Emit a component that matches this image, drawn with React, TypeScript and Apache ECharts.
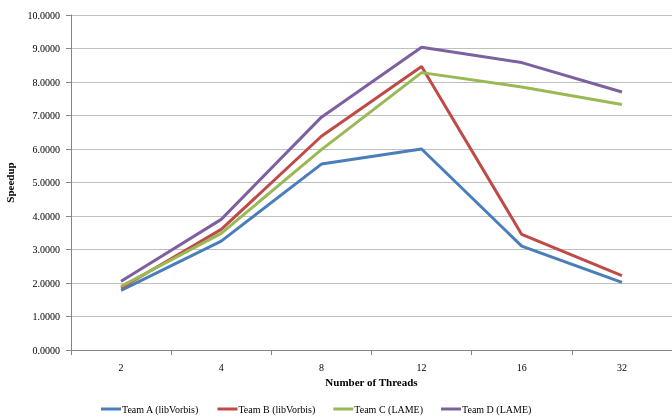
import React, { useEffect, useRef } from "react";
import * as echarts from "echarts";

const categories = ["2", "4", "8", "12", "16", "32"];
const teamA = [1.78, 3.25, 5.55, 6.0, 3.1, 2.02];
const teamB = [1.85, 3.6, 6.38, 8.46, 3.45, 2.22];
const teamC = [1.9, 3.48, 5.98, 8.28, 7.85, 7.33];
const teamD = [2.05, 3.9, 6.95, 9.04, 8.58, 7.7];
const seriesNames = ["Team A (libVorbis)", "Team B (libVorbis)", "Team C (LAME)", "Team D (LAME)"];
const seriesColors = ["#4A7EBB", "#BE4B48", "#98B954", "#7D60A0"];
const seriesData = [teamA, teamB, teamC, teamD];

export default function App() {
  const ref = useRef<HTMLDivElement>(null);
  useEffect(() => {
    const chart = echarts.init(ref.current!, null, { renderer: "svg" });
    const font = "'Liberation Serif', 'Times New Roman', serif";
    chart.setOption({
      animation: false,
      textStyle: { fontFamily: font },
      grid: { left: 71, right: 0, top: 15, bottom: 69, containLabel: false, outerBoundsMode: "none" },
      legend: {
        bottom: 0,
        left: 96,
        itemWidth: 20,
        itemHeight: 3,
        itemGap: 18,
        icon: "rect",
        textStyle: { fontFamily: font, fontSize: 10, color: "#000", padding: [0, 0, 0, -4] },
        data: seriesNames,
      },
      xAxis: {
        type: "category",
        data: categories,
        name: "Number of Threads",
        nameLocation: "middle",
        nameGap: 26,
        nameTextStyle: { fontFamily: font, fontWeight: "bold", fontSize: 11, color: "#000" },
        axisLine: { lineStyle: { color: "#868686" } },
        axisTick: { show: true, length: 5, lineStyle: { color: "#868686" } },
        axisLabel: { fontFamily: font, fontSize: 10, color: "#000", margin: 12 },
      },
      yAxis: {
        type: "value",
        min: 0,
        max: 10,
        interval: 1,
        name: "Speedup",
        nameLocation: "middle",
        nameGap: 56,
        nameTextStyle: { fontFamily: font, fontWeight: "bold", fontSize: 11, color: "#000" },
        axisLine: { show: true, lineStyle: { color: "#868686" } },
        axisTick: { show: true, length: 5, lineStyle: { color: "#868686" } },
        axisLabel: {
          fontFamily: font,
          fontSize: 10,
          color: "#000",
          margin: 11,
          formatter: (v: number) => v.toFixed(4),
        },
        splitLine: { lineStyle: { color: "#BFBFBF", width: 1 } },
      },
      series: seriesData.map((d, i) => ({
        name: seriesNames[i],
        type: "line",
        data: d,
        symbol: "none",
        color: seriesColors[i],
        lineStyle: { width: 3, color: seriesColors[i] },
      })),
    });
    return () => chart.dispose();
  }, []);
  return <div ref={ref} style={{ position: "fixed", left: 0, top: 0, width: 672, height: 419 }} />;
}
